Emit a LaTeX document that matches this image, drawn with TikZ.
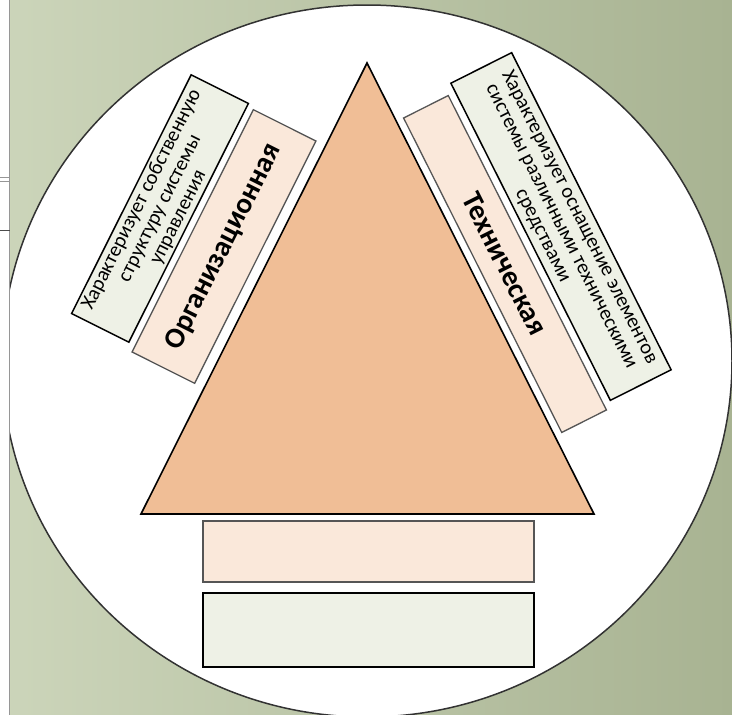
\documentclass[tikz,border=0pt]{standalone}
\usepackage{fontspec}
\setmainfont{Carlito}
\definecolor{bgL}{RGB}{204,213,186}
\definecolor{bgR}{RGB}{168,179,146}
\definecolor{circline}{RGB}{50,50,50}
\definecolor{trifill}{RGB}{240,190,150}
\definecolor{pinkfill}{RGB}{250,232,218}
\definecolor{greenfill}{RGB}{238,241,230}
\definecolor{pinkline}{RGB}{85,85,85}
\definecolor{stripline}{RGB}{150,150,150}
\begin{document}
\begin{tikzpicture}[x=1pt,y=-1pt,
  trishape/.style={fill=trifill, draw=black, line width=1.6pt, line join=miter},
  pinkbox/.style={draw=pinkline, fill=pinkfill, line width=1.3pt, inner sep=0pt},
  greenbox/.style={draw=black, fill=greenfill, line width=1.5pt, inner sep=0pt, align=center},
  bigtxt/.style={font=\fontsize{29}{32}\selectfont\bfseries},
  smalltxt/.style={font=\fontsize{20.5}{20.5}\selectfont}]
\useasboundingbox (0,0) rectangle (732,715);
\shade[left color=bgL, right color=bgR] (0,0) rectangle (732,715);
% white disc
\draw[fill=white, draw=circline, line width=1.5pt] (367,361) ellipse [x radius=365, y radius=356];
% left strip
\fill[white] (0,0) rectangle (9.5,715);
\draw[stripline, line width=0.8pt] (9.5,0) -- (9.5,715);
\draw[stripline, line width=0.8pt] (0,177) -- (9.5,177);
\draw[stripline, line width=0.8pt] (0,181) -- (9.5,181);
\draw[black!70, line width=0.8pt] (0,230) -- (9.5,230);
% triangle
\coordinate (apex) at (367,63);
\coordinate (bl) at (141,514);
\coordinate (br) at (594,514);
\draw[trishape] (apex) -- (bl) -- (br) -- cycle;
% side boxes
\node[greenbox, smalltxt, rotate=63.4, minimum width=267, minimum height=64] (lgreen) at (160,208.5)
  {Характеризует собственную\\структуру системы\\управления};
\node[pinkbox, bigtxt, rotate=63.4, minimum width=271, minimum height=70] (lpink) at (224,246.5)
  {Организационная};
\node[pinkbox, bigtxt, rotate=-63.3, minimum width=352, minimum height=50] (rpink) at (505,264)
  {Техническая};
\node[greenbox, smalltxt, rotate=-63.3, minimum width=355, minimum height=68] (rgreen) at (561,226.5)
  {Характеризует оснащение элементов\\системы различными техническими\\средствами};
% bottom boxes
\node[pinkbox, minimum width=331, minimum height=61] (bpink) at (368.5,551.5) {};
\node[greenbox, minimum width=331, minimum height=74] (bgreen) at (368.5,630) {};
\end{tikzpicture}
\end{document}
